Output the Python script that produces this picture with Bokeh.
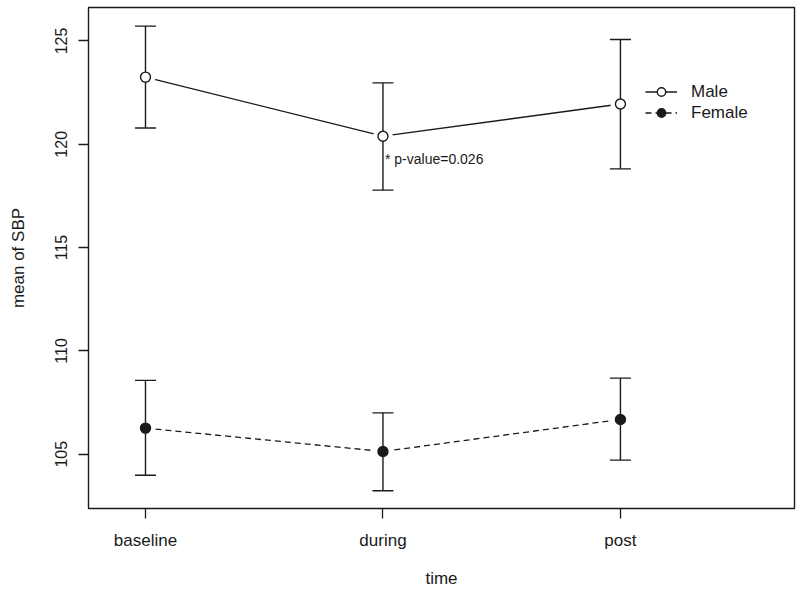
import math
from bokeh.plotting import figure
from bokeh.models import Range1d, FixedTicker, Legend, LegendItem, ColumnDataSource
from bokeh.core.properties import value
from bokeh.embed import file_html
from bokeh.resources import INLINE

# ---- data ----
time_labels = ["baseline", "during", "post"]
time_pos = [1, 2, 3]
male_mean = [123.25, 120.39, 121.95]
male_upper = [125.72, 122.97, 125.07]
male_lower = [120.79, 117.78, 118.81]
female_mean = [106.26, 105.13, 106.68]
female_upper = [108.57, 107.00, 108.68]
female_lower = [103.98, 103.23, 104.71]
y_ticks = [105, 110, 115, 120, 125]
annot_x = [2]
annot_y = [119.31]
annot_text = ["* p-value=0.026"]

FONT = "Liberation Sans"
INK = "#1a1a1a"

p = figure(width=800, height=595, output_backend="svg", toolbar_location=None,
           x_range=Range1d(0.76, 3.733), y_range=Range1d(102.37, 126.62),
           min_border_top=7, min_border_right=6, min_border_left=88, min_border_bottom=87)
p.background_fill_color = "white"
p.border_fill_color = "white"
p.outline_line_color = INK
p.outline_line_width = 1.4
p.xgrid.visible = False
p.ygrid.visible = False

male = ColumnDataSource(dict(x=time_pos, m=male_mean, u=male_upper, l=male_lower))
female = ColumnDataSource(dict(x=time_pos, m=female_mean, u=female_upper, l=female_lower))

ml = p.line("x", "m", source=male, line_color=INK, line_width=1.3)
fl = p.line("x", "m", source=female, line_color=INK, line_width=1.3, line_dash="6 4")
# white halos to give the "type b" gap around points
p.scatter("x", "m", source=male, size=20, fill_color="white", line_color=None)
p.scatter("x", "m", source=female, size=20, fill_color="white", line_color=None)
# error bars
for src in (male, female):
    p.segment("x", "l", "x", "u", source=src, line_color=INK, line_width=1.4)
    p.scatter("x", "u", source=src, marker="dash", size=21, line_color=INK, line_width=1.4)
    p.scatter("x", "l", source=src, marker="dash", size=21, line_color=INK, line_width=1.4)
mm = p.scatter("x", "m", source=male, size=10, fill_color="white", line_color=INK, line_width=1.4)
fm = p.scatter("x", "m", source=female, size=10, fill_color=INK, line_color=INK, line_width=1.4)

p.text(x=annot_x, y=annot_y, text=annot_text, x_offset=2, text_align="left",
       text_baseline="middle", text_font=value(FONT), text_font_size="14px", text_color=INK)

# axes
p.xaxis.ticker = FixedTicker(ticks=time_pos)
p.xaxis.major_label_overrides = {t: l for t, l in zip(time_pos, time_labels)}
p.yaxis.ticker = FixedTicker(ticks=y_ticks)
for ax in (p.xaxis[0], p.yaxis[0]):
    ax.axis_line_color = None
    ax.major_tick_line_color = INK
    ax.major_tick_line_width = 1.3
    ax.major_tick_out = 10
    ax.major_tick_in = 0
    ax.minor_tick_line_color = None
    ax.major_label_text_font = FONT
    ax.major_label_text_font_size = "16px"
    ax.major_label_text_color = INK
    ax.axis_label_text_font = FONT
    ax.axis_label_text_font_size = "17px"
    ax.axis_label_text_font_style = "normal"
    ax.axis_label_text_color = INK
p.xaxis.axis_label = "time"
p.yaxis.axis_label = "mean of SBP"
p.xaxis.major_label_text_font_size = "17px"
p.yaxis.major_label_orientation = "vertical"
p.xaxis.major_label_standoff = 12
p.xaxis.axis_label_standoff = 16
p.yaxis.major_label_standoff = 11
p.yaxis.axis_label_standoff = 25

legend = Legend(items=[LegendItem(label="Male", renderers=[ml, mm]),
                       LegendItem(label="Female", renderers=[fl, fm])],
                location=(557, 385))
legend.border_line_alpha = 0
legend.background_fill_alpha = 0
legend.padding = 0
legend.margin = 0
legend.spacing = 0
legend.glyph_width = 32
legend.glyph_height = 21
legend.label_height = 21
legend.label_standoff = 14
legend.label_text_font = FONT
legend.label_text_font_size = "17px"
legend.label_text_color = INK
p.add_layout(legend)

open("out.html", "w").write(file_html(p, INLINE))
